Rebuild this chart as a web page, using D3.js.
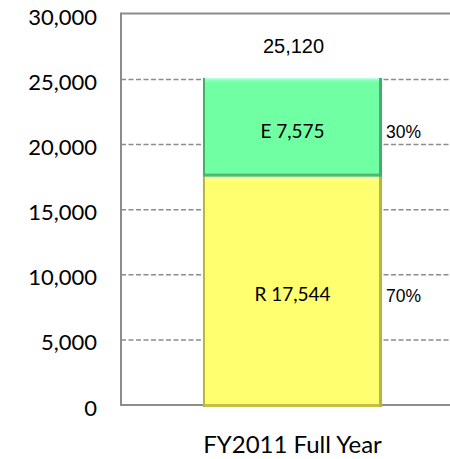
<!DOCTYPE html>
<html>
<head>
<meta charset="utf-8">
<script src="https://cdn.jsdelivr.net/npm/d3@7"></script>
<style>
  body { margin: 0; background: #fff; }
  svg { display: block; }
  .tick-label { font-family: Lato, "Open Sans", sans-serif; font-size: 22px; fill: #000; }
  .cat-label { font-family: Lato, "Open Sans", sans-serif; font-size: 24px; fill: #000; }
  .seg-label { font-family: Lato, "Open Sans", sans-serif; font-size: 19px; fill: #000; }
  .arial { font-family: "Liberation Sans", Arial, sans-serif; fill: #000; }
</style>
</head>
<body>
<div id="chart"></div>
<script>
const width = 450;
const height = 459;

// data
const categories = ["FY2011 Full Year"];
const seriesNames = ["R", "E"];
const seriesValues = [17544, 7575];
const totals = [25120];
const yTicks = [0, 5000, 10000, 15000, 20000, 25000, 30000];

const seriesStyle = [
    { base: "#ffff70", dark: "#b8b440", light: "#ffffc8" },
    { base: "#70ffa2", dark: "#4caa6c", light: "#c0fff0" }
];

const plot = { left: 121, right: 464, top: 14.4, bottom: 405 };

const svg = d3.select("#chart").append("svg")
    .attr("width", width)
    .attr("height", height);

const x = d3.scaleBand()
    .domain(categories)
    .range([plot.left, plot.right])
    .padding(0.314);

const y = d3.scaleLinear()
    .domain([0, 30000])
    .range([plot.bottom, plot.top]);

const fmt = d3.format(",");
const pct = d3.format(".0%");

// gridlines
svg.append("g").classed("grid", true)
    .selectAll("line")
    .data(yTicks.filter(d => d > 0 && d < 30000))
    .enter().append("line")
    .attr("x1", plot.left)
    .attr("x2", width)
    .attr("y1", d => y(d))
    .attr("y2", d => y(d))
    .attr("stroke", "#8c8c8c")
    .attr("stroke-width", 1.5)
    .attr("stroke-dasharray", "5,2.5");

// plot frame: left, top, bottom
const frame = svg.append("g").attr("stroke", "#8c8c8c").attr("stroke-width", 2);
frame.append("line").attr("x1", plot.left).attr("x2", width).attr("y1", y(30000) - 1).attr("y2", y(30000) - 1);
frame.append("line").attr("x1", plot.left).attr("x2", width).attr("y1", y(0)).attr("y2", y(0));
frame.append("line").attr("x1", plot.left).attr("x2", plot.left).attr("y1", y(30000) - 2).attr("y2", y(0) + 1);

// tick labels
svg.append("g")
    .selectAll("text")
    .data(yTicks)
    .enter().append("text")
    .classed("tick-label", true)
    .attr("x", 97)
    .attr("y", d => y(d) + 10.5)
    .attr("text-anchor", "end")
    .text(d => fmt(d));

// stacked segments
const stack = d3.stack().keys(seriesNames.map((s, i) => i))([seriesValues]);
const total = d3.sum(seriesValues);

const defs = svg.append("defs");
seriesStyle.forEach((s, i) => {
    const g = defs.append("linearGradient").attr("id", "hl" + i)
        .attr("x1", 0).attr("x2", 0).attr("y1", 0).attr("y2", 1);
    g.append("stop").attr("offset", "0%").attr("stop-color", s.light);
    g.append("stop").attr("offset", "100%").attr("stop-color", s.base).attr("stop-opacity", 0);
});

const bx = x(categories[0]);
const bw = x.bandwidth();

const segs = svg.append("g").selectAll("g")
    .data(stack)
    .enter().append("g");

segs.each(function (layer, i) {
    const g = d3.select(this);
    const s = seriesStyle[i];
    const y0 = y(layer[0][1]);
    const y1 = y(layer[0][0]) + (i === 0 ? 2 : 0);
    const h = y1 - y0;
    g.append("rect").attr("x", bx).attr("y", y0).attr("width", bw).attr("height", h).attr("fill", s.base);
    g.append("rect").attr("x", bx).attr("y", y0).attr("width", bw).attr("height", 6).attr("fill", `url(#hl${i})`);
    g.append("rect").attr("x", bx).attr("y", y0).attr("width", 2).attr("height", h).attr("fill", s.dark);
    g.append("rect").attr("x", bx + bw - 3).attr("y", y0).attr("width", 3).attr("height", h).attr("fill", s.dark);
    g.append("rect").attr("x", bx).attr("y", y1 - 3).attr("width", bw).attr("height", 3).attr("fill", s.dark).attr("opacity", 0.85);
});

// segment labels
segs.append("text")
    .classed("seg-label", true)
    .attr("x", bx + bw / 2)
    .attr("y", d => (y(d[0][0]) + y(d[0][1])) / 2 + 3)
    .attr("dominant-baseline", "central")
    .attr("text-anchor", "middle")
    .text((d, i) => seriesNames[i] + " " + fmt(seriesValues[i]));

// share labels right of bar
segs.append("text")
    .classed("arial", true)
    .attr("font-size", 17.5)
    .attr("x", bx + bw + 4)
    .attr("y", d => (y(d[0][0]) + y(d[0][1])) / 2 + 11)
    .text((d, i) => pct(seriesValues[i] / total));

// total above bar
svg.append("text")
    .classed("arial", true)
    .attr("font-size", 20)
    .attr("x", bx + bw / 2 + 1)
    .attr("y", y(totals[0]) - 25)
    .attr("text-anchor", "middle")
    .text(fmt(totals[0]));

// category label
svg.append("text")
    .classed("cat-label", true)
    .attr("x", bx + bw / 2)
    .attr("y", 453)
    .attr("text-anchor", "middle")
    .text(categories[0]);
</script>
</body>
</html>
